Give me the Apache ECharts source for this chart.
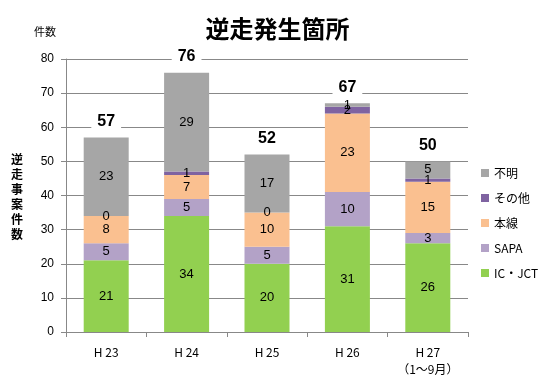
<!DOCTYPE html>
<html><head><meta charset="utf-8">
<script src="https://cdn.jsdelivr.net/npm/echarts@6/dist/echarts.min.js"></script>
<style>html,body{margin:0;padding:0;background:#fff}#c{width:555px;height:386px}</style>
</head><body><div id="c"></div>
<script>
const categories = ['H 23', 'H 24', 'H 25', 'H 26', 'H 27\n（1～9月）'];
const icJct = [21, 34, 20, 31, 26];
const sapa = [5, 5, 5, 10, 3];
const honsen = [8, 7, 10, 23, 15];
const sonota = [0, 1, 0, 2, 1];
const fumei = [23, 29, 17, 1, 5];
const totals = [57, 76, 52, 67, 50];
const yTicks = [0, 10, 20, 30, 40, 50, 60, 70, 80];

const JP = '"Noto Sans CJK JP", sans-serif';
const NUM = '"Liberation Sans", Arial, sans-serif';
const chart = echarts.init(document.getElementById('c'), null, {renderer: 'canvas'});
function barSeries(name, data, color) {
  return {
    name, type: 'bar', stack: 'a', data, barWidth: 45,
    itemStyle: {color},
    label: {show: true, position: 'inside', color: '#000', fontSize: 13, fontFamily: NUM},
    emphasis: {disabled: true}
  };
}
chart.setOption({
  animation: false,
  title: {text: '逆走発生箇所', left: 'center', top: 12,
    textStyle: {fontFamily: JP, fontSize: 24, fontWeight: 'bold', color: '#000'}},
  grid: {left: 66, right: 87, top: 59, bottom: 54},
  legend: {
    orient: 'vertical', left: 476, top: 162, itemGap: 13, itemWidth: 8, itemHeight: 8,
    icon: 'rect', data: ['不明', 'その他', '本線', 'SAPA', 'IC・JCT'],
    textStyle: {fontFamily: JP, fontSize: 12, color: '#000'}
  },
  graphic: [
    {type: 'text', left: 34, top: 26, style: {text: '件数', font: '11px ' + JP, fill: '#000'}},
    {type: 'text', left: 11, top: 152, style: {text: '逆\n走\n事\n案\n件\n数', font: 'bold 12px ' + JP, fill: '#000', lineHeight: 15}}
  ],
  xAxis: {
    type: 'category', data: categories,
    axisLine: {lineStyle: {color: '#888'}},
    axisTick: {show: true, length: 5, lineStyle: {color: '#888'}},
    axisLabel: {color: '#000', fontFamily: JP, fontSize: 12, margin: 12, lineHeight: 17}
  },
  yAxis: {
    type: 'value', min: 0, max: 80, interval: 10,
    axisLine: {show: true, lineStyle: {color: '#888'}},
    axisTick: {show: true, length: 5, lineStyle: {color: '#888'}},
    splitLine: {lineStyle: {color: '#888', width: 1}},
    axisLabel: {color: '#000', fontFamily: NUM, fontSize: 12, margin: 12,
      formatter: v => yTicks.includes(v) ? String(v) : ''}
  },
  series: [
    barSeries('IC・JCT', icJct, '#92d050'),
    barSeries('SAPA', sapa, '#b3a2c7'),
    barSeries('本線', honsen, '#fac090'),
    barSeries('その他', sonota, '#7f63a1'),
    barSeries('不明', fumei, '#a6a6a6'),
    {
      name: '合計', type: 'line', data: totals, symbol: 'circle', symbolSize: 2,
      showSymbol: true, itemStyle: {color: 'rgba(0,0,0,0)', borderWidth: 0},
      lineStyle: {width: 0, color: 'rgba(0,0,0,0)'}, silent: true, z: 10,
      label: {show: true, position: 'top', distance: 6, color: '#000',
        fontSize: 16, fontWeight: 'bold', fontFamily: NUM,
        backgroundColor: '#fff', padding: [1, 6]}
    }
  ]
});
</script></body></html>
